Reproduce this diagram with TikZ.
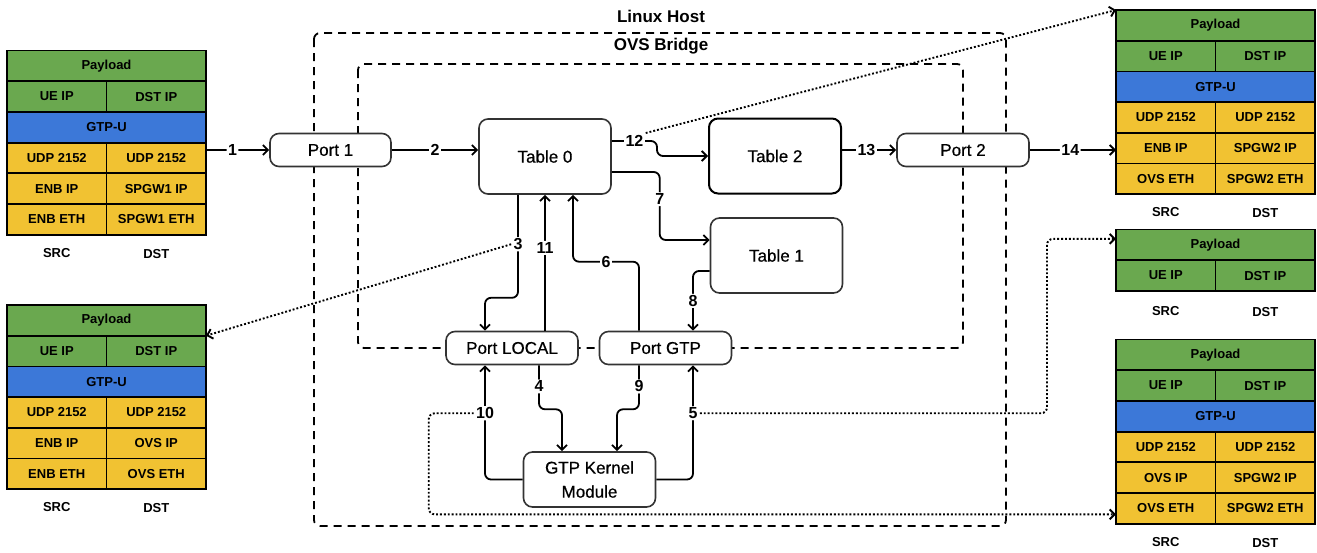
\documentclass[tikz,border=0pt]{standalone}
\usepackage{fontspec}
\setmainfont{Liberation Sans}
\newfontfamily\nodefont[FakeBold=0.6]{Liberation Sans}
\usepackage{tikz}
\usetikzlibrary{positioning,arrows.meta}
\definecolor{pktgreen}{HTML}{6AA84F}
\definecolor{pktblue}{HTML}{3C78D8}
\definecolor{pktyellow}{HTML}{F1C232}
\definecolor{boxline}{HTML}{333333}
\tikzset{
  every node/.style={font=\nodefont\fontsize{17}{24}\selectfont},
  port/.style={draw=boxline, line width=1.6pt, fill=white, rounded corners=9pt,
    minimum width=132pt, minimum height=33pt, align=center},
  flowtbl/.style={port, minimum height=75pt},
  numlbl/.style={fill=white, inner sep=1.5pt, font=\bfseries\fontsize{16}{18}\selectfont},
  flowarrow/.style={line width=1.8pt, rounded corners=6pt, -{Straight Barb[length=5pt,width=10pt]}},
  tracearrow/.style={line width=1.9pt, dotted, rounded corners=6pt, -{Straight Barb[length=5pt,width=10pt]}},
  hostframe/.style={line width=1.8pt, dash pattern=on 8pt off 6pt, rounded corners=6pt},
  boxtitle/.style={font=\bfseries\fontsize{17}{20}\selectfont},
  pktcell/.style={draw=black, line width=1.8pt, anchor=north west, inner sep=0pt, outer sep=0pt,
    minimum height=30.7pt, font=\bfseries\fontsize{13}{15}\selectfont},
  pkthalf/.style={pktcell, minimum width=99.5pt},
  pktfull/.style={pktcell, minimum width=199pt},
  pktcap/.style={font=\bfseries\fontsize{13}{15}\selectfont}
}
% inner part of a packet: name, left, top
\newcommand{\innerpacket}[3]{%
  \node[pktfull, fill=pktgreen] (#1-pl) at (#2,#3) {Payload};
  \node[pkthalf, fill=pktgreen] (#1-ue) at (#1-pl.south west) {UE IP};
  \node[pkthalf, fill=pktgreen] (#1-dip) at (#1-ue.north east) {DST IP};
}
% tunnelled packet: name, left, top, src ip, dst ip, src eth, dst eth
\newcommand{\tunnelpacket}[7]{%
  \innerpacket{#1}{#2}{#3}
  \node[pktfull, fill=pktblue] (#1-gtp) at (#1-ue.south west) {GTP-U};
  \node[pkthalf, fill=pktyellow] (#1-udps) at (#1-gtp.south west) {UDP 2152};
  \node[pkthalf, fill=pktyellow] (#1-udpd) at (#1-udps.north east) {UDP 2152};
  \node[pkthalf, fill=pktyellow] (#1-ips) at (#1-udps.south west) {#4};
  \node[pkthalf, fill=pktyellow] (#1-ipd) at (#1-ips.north east) {#5};
  \node[pkthalf, fill=pktyellow] (#1-eths) at (#1-ips.south west) {#6};
  \node[pkthalf, fill=pktyellow] (#1-ethd) at (#1-eths.north east) {#7};
  \node[pktcap] (#1-src) at ([yshift=-18pt]#1-eths.south) {SRC};
  \node[pktcap] (#1-dst) at ([yshift=-19pt]#1-ethd.south) {DST};
}

\begin{document}
\begin{tikzpicture}[x=1pt, y=-1pt]
\useasboundingbox (0,0) rectangle (1317,552);

% host and bridge
\draw[hostframe] (314,33) rectangle (1006,526);
\draw[hostframe] (358,64) rectangle (963,348);
\node[boxtitle] (host) at (661,16) {Linux Host};
\node[boxtitle] (bridge) at (661,46) {OVS Bridge};

% packets
\tunnelpacket{l1}{7}{50.5}{ENB IP}{SPGW1 IP}{ENB ETH}{SPGW1 ETH}
\tunnelpacket{l2}{7}{305}{ENB IP}{OVS IP}{ENB ETH}{OVS ETH}
\tunnelpacket{r1}{1116}{10}{ENB IP}{SPGW2 IP}{OVS ETH}{SPGW2 ETH}
\innerpacket{r2}{1116}{229.5}
\node[pktcap] (r2-src) at ([yshift=-20pt]r2-ue.south) {SRC};
\node[pktcap] (r2-dst) at ([yshift=-21pt]r2-dip.south) {DST};
\tunnelpacket{r3}{1116}{339.5}{OVS IP}{SPGW2 IP}{OVS ETH}{SPGW2 ETH}

% ports and tables
\node[port, minimum width=121pt] (p1) at (330.5,150) {Port 1};
\node[flowtbl] (t0) at (545,156.5) {Table 0};
\node[flowtbl, draw=black, line width=2pt] (t2) at (775,156) {Table 2};
\node[port] (p2) at (963,150) {Port 2};
\node[flowtbl] (t1) at (776.5,255.5) {Table 1};
\node[port] (pl) at (512,348) {Port LOCAL};
\node[port] (pg) at (665.5,348) {Port GTP};
\node[port, minimum height=55pt] (km) at (589.5,479.5) {GTP Kernel\\Module};

% flow
\draw[flowarrow] (l1-udpd.east |- p1.west) -- node[numlbl, pos=0.42] (n1) {1} (p1.west);
\draw[flowarrow] (p1.east) -- node[numlbl] (n2) {2} (p1.east -| t0.west);
\draw[flowarrow] ([xshift=-27pt]t0.south) -- node[numlbl, pos=0.48] (n3) {3} ++(0,103) -| ([xshift=-27pt]pl.north);
\draw[flowarrow] ([xshift=27pt]pl.south) -- node[numlbl, pos=0.48] (n4) {4} ++(0,44) -| ([xshift=-27.5pt]km.north);
\draw[flowarrow] (km.east) -| node[numlbl, pos=0.79] (n5) {5} ([xshift=27.5pt]pg.south);
\draw[flowarrow] ([xshift=-26.5pt]pg.north) -- ++(0,-69) -| node[numlbl, pos=0.25] (n6) {6} ([xshift=28pt]t0.south);
\draw[flowarrow] ([yshift=-15.5pt]t0.east) -| node[numlbl, pos=0.7] (n7) {7} ([xshift=-50pt, yshift=15.5pt]t1.west) -- ([yshift=15.5pt]t1.west);
\draw[flowarrow] ([yshift=-15.5pt]t1.west) -| node[numlbl, pos=0.75] (n8) {8} ([xshift=27.5pt]pg.north);
\draw[flowarrow] ([xshift=-26.5pt]pg.south) -- node[numlbl, pos=0.48] (n9) {9} ++(0,44) -| ([xshift=27.5pt]km.north);
\draw[flowarrow] (km.west) -| node[numlbl, pos=0.79] (n10) {10} ([xshift=-27pt]pl.south);
\draw[flowarrow] (t0.south |- pl.north) -- node[numlbl, pos=0.61] (n11) {11} (t0.south);
\draw[flowarrow] ([yshift=15.5pt]t0.east) -| node[numlbl, pos=0.25] (n12) {12} ([xshift=-51pt]t2.west) -- (t2.west);
\draw[flowarrow] (t2.east |- p2.west) -- node[numlbl, pos=0.45] (n13) {13} (p2.west);
\draw[flowarrow] (p2.east) -- node[numlbl, pos=0.47] (n14) {14} (p2.east -| r1-udps.west);

% packet snapshots
\draw[tracearrow] (n12.north east) -- (r1-pl.north west);
\draw[tracearrow] (n3.west) -- (l2-dip.north east);
\draw[tracearrow] (n5.east) -| ([xshift=-69pt, yshift=6pt]r2-pl.west) -- ([yshift=6pt]r2-pl.west);
\draw[tracearrow] (n10.west) -- ++(-45,0) |- ([yshift=-6pt]r3-eths.west);

\end{tikzpicture}
\end{document}
